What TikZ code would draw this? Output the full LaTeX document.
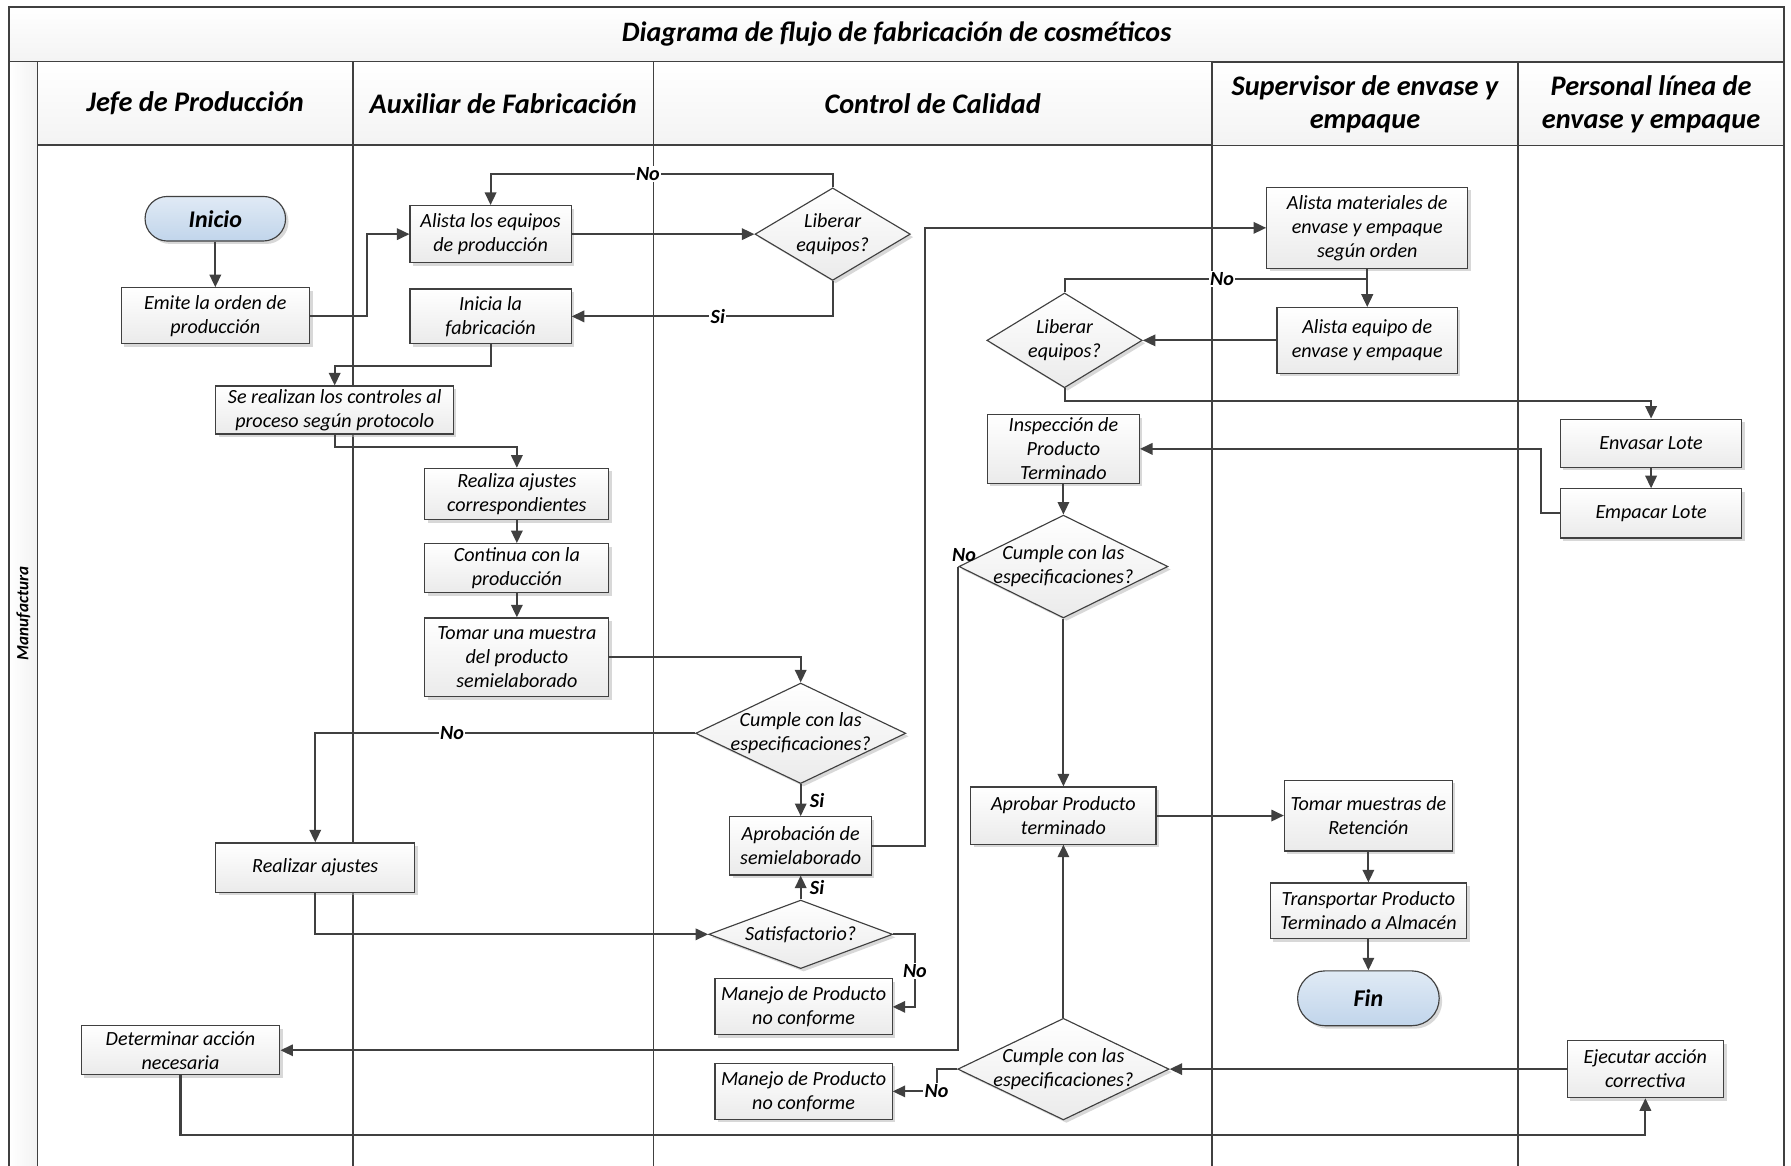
\documentclass[tikz,border=0pt]{standalone}
\usepackage{fontspec}
\setmainfont{Carlito}
\usetikzlibrary{shapes.geometric, arrows.meta, shadows}

\definecolor{linegray}{RGB}{64,64,64}
\definecolor{termtop}{RGB}{224,234,245}
\definecolor{termbot}{RGB}{193,213,235}

\begin{document}
\begin{tikzpicture}[x=0.5pt, y=-0.5pt,
  box/.style={rectangle, draw=linegray, line width=0.5pt, top color=white, bottom color=gray!16, drop shadow={shadow xshift=1.3pt, shadow yshift=-1.3pt, fill=gray!60, opacity=.5}, align=center, inner sep=1pt, font=\itshape\fontsize{8.8}{10.5}\selectfont},
  terminal/.style={box, top color=termtop, bottom color=termbot, font=\bfseries\itshape\fontsize{10.5}{12}\selectfont},
  decision/.style={diamond, draw=linegray, line width=0.5pt, top color=white, bottom color=gray!16, drop shadow={shadow xshift=1.3pt, shadow yshift=-1.3pt, fill=gray!60, opacity=.5}, inner sep=0pt},
  dtext/.style={align=center, inner sep=0pt, font=\itshape\fontsize{8.8}{10.5}\selectfont},
  headcell/.style={rectangle, draw=linegray, line width=0.6pt, top color=white, bottom color=gray!9, align=center, font=\bfseries\itshape\fontsize{12.4}{14.5}\selectfont},
  lane/.style={draw=linegray, line width=0.6pt},
  arrow/.style={-{Triangle[length=5.5pt,width=5pt]}, draw=linegray, line width=0.9pt},
  tag/.style={font=\bfseries\itshape\fontsize{8.8}{10}\selectfont, fill=white, inner sep=0.6pt}]
  \useasboundingbox (0,0) rectangle (1568,1020);

  % Lanes
  \foreach \lx in {8,33,309,572,1061,1329,1562}
    \draw[lane] (\lx,54) -- (\lx,1030);
  \node[headcell, font=\bfseries\itshape\fontsize{12.3}{14}\selectfont, minimum width=777pt, minimum height=24pt] (title) at (785,30) {Diagrama de flujo de fabricación de cosméticos};
  \node[headcell, left color=white, right color=gray!10, minimum width=12.5pt, minimum height=488pt] (strip) at (20.5,542) {};
  \node[rotate=90, font=\bfseries\itshape\fontsize{7.5}{9}\selectfont] (manuf) at (20.5,537) {Manufactura};
  \node[headcell, minimum width=138pt, minimum height=36.5pt] (hjefe) at (171,90.5) {Jefe de Producción};
  \node[headcell, minimum width=131.5pt, minimum height=36.5pt] (haux) at (440.5,90.5) {Auxiliar de Fabricación};
  \node[headcell, minimum width=244.5pt, minimum height=36.5pt] (hcal) at (816.5,90.5) {Control de Calidad};
  \node[headcell, minimum width=134pt, minimum height=36.5pt] (hsup) at (1195,91) {Supervisor de envase y\\empaque};
  \node[headcell, minimum width=116.5pt, minimum height=36.5pt] (hper) at (1445.5,91) {Personal línea de\\envase y empaque};

  % Jefe de Produccion
  \node[terminal, rounded corners=9.7pt, minimum width=61.5pt, minimum height=19.5pt] (inicio) at (188.5,191.5) {Inicio};
  \node[box, minimum width=82.5pt, minimum height=24.5pt] (emite) at (188.5,276.5) {Emite la orden de\\producción};
  \node[box, minimum width=104pt, minimum height=21pt] (controles) at (293,359) {Se realizan los controles al\\proceso según protocolo};
  \node[box, minimum width=87pt, minimum height=21.5pt] (realizar) at (276,759.5) {Realizar ajustes};
  \node[box, minimum width=87pt, minimum height=21.5pt] (determinar) at (158,919.5) {Determinar acción\\necesaria};

  % Auxiliar de Fabricacion
  \node[box, minimum width=70.5pt, minimum height=25pt] (alistaeq) at (429.5,205) {Alista los equipos\\de producción};
  \node[box, minimum width=70.5pt, minimum height=24pt] (inicia) at (429.5,277) {Inicia la\\fabricación};
  \node[box, minimum width=80.5pt, minimum height=22.5pt] (realiza) at (452.5,432.5) {Realiza ajustes\\correspondientes};
  \node[box, minimum width=80.5pt, minimum height=21.5pt] (continua) at (452.5,497.5) {Continua con la\\producción};
  \node[box, minimum width=80.5pt, minimum height=34.5pt] (muestra) at (452.5,575.5) {Tomar una muestra\\del producto\\semielaborado};

  % Control de Calidad
  \node[decision, minimum width=68pt, minimum height=40.5pt, label={[dtext]center:{Liberar\\equipos?}}] (liberar1) at (729,205) {};
  \node[decision, minimum width=92pt, minimum height=44pt, label={[dtext]center:{Cumple con las\\especificaciones?}}] (cumple1) at (701,642) {};
  \node[box, minimum width=62pt, minimum height=25.5pt] (aprobsemi) at (701,740.5) {Aprobación de\\semielaborado};
  \node[decision, minimum width=80.5pt, minimum height=30pt, label={[dtext]center:{Satisfactorio?}}] (satisf) at (701,818) {};
  \node[box, minimum width=77.5pt, minimum height=24.5pt] (manejo1) at (703.5,881.5) {Manejo de Producto\\no conforme};
  \node[box, minimum width=77.5pt, minimum height=24.5pt] (manejo2) at (703.5,955.5) {Manejo de Producto\\no conforme};
  \node[decision, minimum width=68pt, minimum height=41.5pt, label={[dtext]center:{Liberar\\equipos?}}] (liberar2) at (932,298) {};
  \node[box, minimum width=66.5pt, minimum height=30pt] (inspeccion) at (931,393) {Inspección de\\Producto\\Terminado};
  \node[decision, minimum width=91.5pt, minimum height=45pt, label={[dtext]center:{Cumple con las\\especificaciones?}}] (cumple3) at (931,496) {};
  \node[box, minimum width=81pt, minimum height=25pt] (aprobar) at (931,714) {Aprobar Producto\\terminado};
  \node[decision, minimum width=92.5pt, minimum height=44.5pt, label={[dtext]center:{Cumple con las\\especificaciones?}}] (cumple4) at (931,936) {};

  % Supervisor de envase y empaque
  \node[box, minimum width=88pt, minimum height=35.5pt] (almat) at (1197,199.5) {Alista materiales de\\envase y empaque\\según orden};
  \node[box, minimum width=79pt, minimum height=29pt] (aleq) at (1197,298) {Alista equipo de\\envase y empaque};
  \node[box, minimum width=73.5pt, minimum height=31pt] (tomaret) at (1198,714) {Tomar muestras de\\Retención};
  \node[box, minimum width=86pt, minimum height=24.5pt] (transporte) at (1198,797.5) {Transportar Producto\\Terminado a Almacén};
  \node[terminal, rounded corners=12pt, minimum width=62pt, minimum height=24pt] (fin) at (1198,874) {Fin};

  % Personal linea de envase y empaque
  \node[box, minimum width=79.5pt, minimum height=21pt] (envasar) at (1445.5,388) {Envasar Lote};
  \node[box, minimum width=79.5pt, minimum height=21.5pt] (empacar) at (1445.5,449.5) {Empacar Lote};
  \node[box, minimum width=68.5pt, minimum height=25pt] (ejecutar) at (1440.5,936) {Ejecutar acción\\correctiva};

  % Connectors
  \draw[arrow] (inicio) -- (emite);
  \draw[arrow] (emite.east) -- ++(50,0) |- (alistaeq.west);
  \draw[arrow] (alistaeq) -- (liberar1);
  \draw[arrow] (liberar1.north) -- ++(0,-12) -| node[tag, pos=0.27] {No} (alistaeq.north);
  \draw[arrow] (liberar1.south) |- node[tag, pos=0.72] {Si} (inicia.east);
  \draw[arrow] (inicia.south) -- ++(0,19) -| (controles.north);
  \draw[arrow] (controles.south) -- ++(0,11) -| (realiza.north);
  \draw[arrow] (realiza) -- (continua);
  \draw[arrow] (continua) -- (muestra);
  \draw[arrow] (muestra.east) -| (cumple1.north);
  \draw[arrow] (cumple1) -- node[tag, right=3pt, fill=none] {Si} (aprobsemi);
  \draw[arrow] (cumple1.west) -| node[tag, pos=0.32] {No} (realizar.north);
  \draw[arrow] (realizar.south) |- (satisf.west);
  \draw[arrow] (satisf) -- node[tag, right=3pt, fill=none] {Si} (aprobsemi);
  \draw[arrow] (satisf.east) -- ++(19,0) |- node[tag, pos=0.25] {No} (manejo1.east);
  \draw[arrow] (aprobsemi.east) -- ++(46,0) |- (almat.west);
  \draw[arrow] (almat) -- (aleq);
  \draw[arrow] (aleq) -- (liberar2);
  \draw[arrow] (liberar2.north) -- ++(0,-12) -| node[tag, pos=0.26] {No} (aleq.north);
  \draw[arrow] (liberar2.south) -- ++(0,11) -| (envasar.north);
  \draw[arrow] (envasar) -- (empacar);
  \draw[arrow] (empacar.west) -- ++(-16,0) |- (inspeccion.east);
  \draw[arrow] (inspeccion) -- (cumple3);
  \draw[arrow] (cumple3.west) node[tag, fill=none, above=1pt, xshift=2.5pt] {No} |- (determinar.east);
  \draw[arrow] (cumple3) -- (aprobar);
  \draw[arrow] (aprobar) -- (tomaret);
  \draw[arrow] (tomaret) -- (transporte);
  \draw[arrow] (transporte) -- (fin);
  \draw[arrow] (cumple4) -- (aprobar);
  \draw[arrow] (ejecutar) -- (cumple4);
  \draw[arrow] (cumple4.west) -- ++(-18,0) |- node[tag, pos=0.5] {No} (manejo2.east);
  \draw[arrow] (determinar.south) -- ++(0,52) -| (ejecutar.south);
\end{tikzpicture}
\end{document}
